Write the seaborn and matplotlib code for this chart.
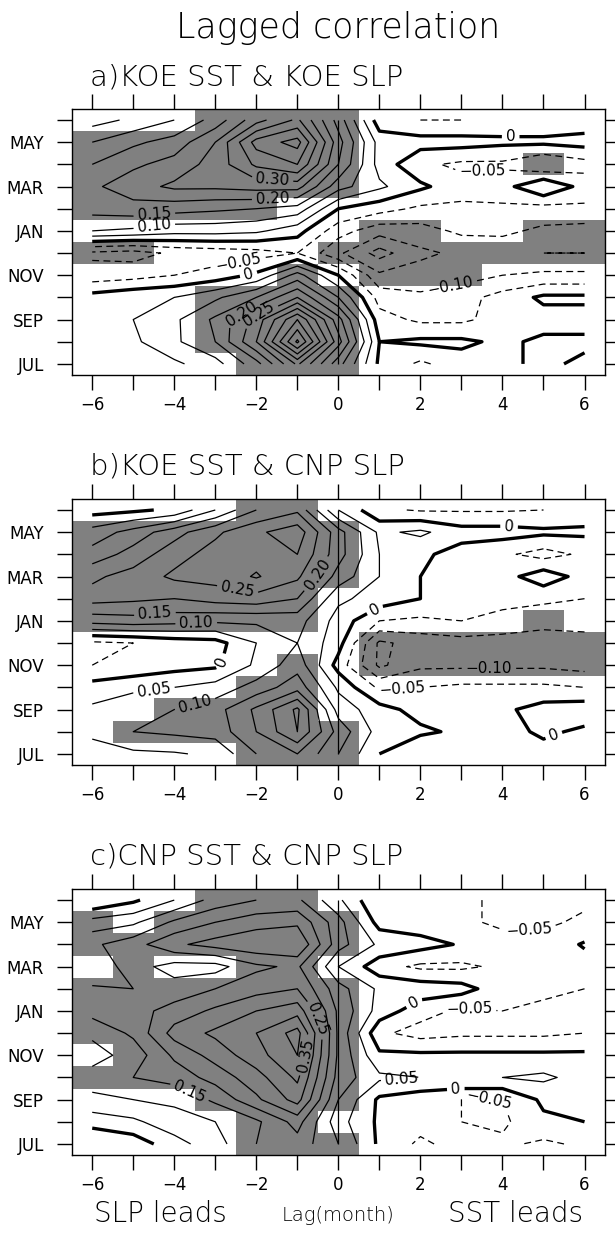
import numpy as np
import pandas as pd
import matplotlib
matplotlib.use("Agg")
import matplotlib.pyplot as plt
from matplotlib.colors import ListedColormap
import seaborn as sns

# ── Data ──────────────────────────────────────────────────
LAGS   = list(range(-6, 7))
MONTHS = ["JUL", "AUG", "SEP", "OCT", "NOV", "DEC",
          "JAN", "FEB", "MAR", "APR", "MAY", "JUN"]
MONTH_LABELS = ["JUL", "", "SEP", "", "NOV", "", "JAN", "", "MAR", "", "MAY", ""]
LAG_LABELS   = ["−6", "", "−4", "", "−2", "", "0", "", "2", "", "4", "", "6"]

TITLES = ["a)KOE SST & KOE SLP", "b)KOE SST & CNP SLP", "c)CNP SST & CNP SLP"]

# correlation, rows JUL..JUN, columns lag -6..6
corr_a = [
    [ 0.02,  0.03,  0.04,  0.08,  0.18,  0.36,  0.17, -0.01, -0.06, -0.02, -0.01,  0.01, -0.01],
    [ 0.02,  0.04,  0.09,  0.15,  0.30,  0.56,  0.27,  0.00,  0.01,  0.01, -0.01,  0.01,  0.01],
    [ 0.02,  0.05,  0.09,  0.16,  0.27,  0.45,  0.22, -0.03, -0.06, -0.06, -0.03, -0.02, -0.02],
    [ 0.02,  0.04,  0.05,  0.09,  0.15,  0.25,  0.10, -0.07, -0.09, -0.07, -0.03,  0.01,  0.01],
    [-0.08, -0.07, -0.05, -0.03,  0.01,  0.12,  0.00, -0.14, -0.13, -0.12, -0.10, -0.09, -0.09],
    [-0.11, -0.12, -0.09, -0.08, -0.07, -0.05, -0.14, -0.22, -0.16, -0.14, -0.13, -0.15, -0.15],
    [ 0.10,  0.09,  0.07,  0.07,  0.06,  0.02, -0.08, -0.13, -0.12, -0.09, -0.09, -0.11, -0.12],
    [ 0.17,  0.18,  0.17,  0.16,  0.15,  0.13,  0.00, -0.03, -0.06, -0.06, -0.06, -0.07, -0.06],
    [ 0.19,  0.23,  0.26,  0.26,  0.27,  0.27,  0.12,  0.06,  0.01, -0.03, -0.02,  0.05, -0.02],
    [ 0.15,  0.19,  0.22,  0.27,  0.36,  0.40,  0.20,  0.03, -0.04, -0.06, -0.06, -0.10, -0.07],
    [ 0.10,  0.14,  0.17,  0.25,  0.42,  0.47,  0.22,  0.03,  0.02,  0.02,  0.01,  0.01,  0.02],
    [ 0.03,  0.06,  0.10,  0.17,  0.28,  0.36,  0.18, -0.03, -0.05, -0.05, -0.03, -0.03, -0.03],
]
corr_b = [
    [ 0.03,  0.04,  0.045, 0.06,  0.15,  0.20,  0.10,  0.00, -0.05, -0.01, -0.01, -0.02, -0.01],
    [ 0.06,  0.10,  0.11,  0.12,  0.20,  0.30,  0.13,  0.03,  0.01, -0.01, -0.02,  0.01, -0.01],
    [ 0.06,  0.08,  0.10,  0.13,  0.21,  0.31,  0.08,  0.02, -0.02, -0.02, -0.01,  0.02,  0.03],
    [ 0.02,  0.04,  0.05,  0.07,  0.12,  0.18,  0.04, -0.06, -0.05, -0.04, -0.04, -0.04, -0.05],
    [-0.05, -0.04, -0.02, -0.01,  0.06,  0.13, -0.02, -0.16, -0.11, -0.11, -0.11, -0.11, -0.12],
    [-0.06, -0.05, -0.03, -0.02,  0.05,  0.10,  0.02, -0.16, -0.13, -0.12, -0.12, -0.13, -0.13],
    [ 0.12,  0.13,  0.12,  0.11,  0.11,  0.12,  0.03, -0.05, -0.06, -0.05, -0.07, -0.08, -0.07],
    [ 0.22,  0.21,  0.20,  0.22,  0.23,  0.20,  0.06,  0.03,  0.00, -0.03, -0.03, -0.04, -0.05],
    [ 0.19,  0.22,  0.26,  0.27,  0.305, 0.26,  0.13,  0.05,  0.00, -0.02, -0.02,  0.03, -0.02],
    [ 0.12,  0.17,  0.23,  0.27,  0.28,  0.30,  0.17,  0.05,  0.01, -0.02, -0.04, -0.07, -0.04],
    [ 0.07,  0.12,  0.18,  0.24,  0.29,  0.33,  0.17,  0.04,  0.06,  0.02,  0.02,  0.01,  0.01],
    [-0.02, -0.01,  0.01,  0.10,  0.20,  0.24,  0.05, -0.04, -0.055, -0.055, -0.055, -0.05, -0.03],
]
corr_c = [
    [-0.05, -0.03,  0.03,  0.08,  0.15,  0.18,  0.10, -0.01, -0.06, -0.03, -0.04, -0.06, -0.04],
    [ 0.02,  0.04,  0.08,  0.10,  0.14,  0.22,  0.07, -0.01, -0.03, -0.05, -0.06, -0.01,  0.00],
    [ 0.09,  0.10,  0.11,  0.16,  0.24,  0.32,  0.10, -0.01, -0.03, -0.05, -0.05,  0.01,  0.02],
    [ 0.12,  0.15,  0.17,  0.22,  0.28,  0.36,  0.13,  0.06,  0.05,  0.05,  0.05,  0.06,  0.03],
    [ 0.08,  0.12,  0.21,  0.27,  0.33,  0.40,  0.14,  0.01,  0.01,  0.01,  0.01,  0.01,  0.01],
    [ 0.11,  0.16,  0.27,  0.31,  0.35,  0.42,  0.14, -0.04, -0.07, -0.06, -0.06, -0.06, -0.05],
    [ 0.17,  0.18,  0.22,  0.26,  0.30,  0.33,  0.14,  0.03, -0.03, -0.06, -0.05, -0.06, -0.06],
    [ 0.155, 0.15,  0.17,  0.20,  0.23,  0.25,  0.12,  0.04,  0.03,  0.02, -0.03, -0.04, -0.05],
    [ 0.12,  0.17,  0.13,  0.13,  0.19,  0.21,  0.05, -0.03, -0.06, -0.06, -0.04, -0.03, -0.02],
    [ 0.14,  0.18,  0.24,  0.27,  0.29,  0.30,  0.12,  0.04,  0.02, -0.005, -0.03, -0.03, 0.005],
    [ 0.07,  0.09,  0.16,  0.20,  0.23,  0.24,  0.12, -0.02, -0.03, -0.04, -0.06, -0.06, -0.04],
    [-0.05, -0.01,  0.05,  0.12,  0.15,  0.16,  0.06, -0.05, -0.04, -0.04, -0.06, -0.08, -0.06],
]

# significant cells (shaded), rows JUL..JUN, columns lag -6..6
sig_a = ["0000111000000", "0001111000000", "0001111000000", "0001111000000",
         "0000010111000", "1100001111111", "0000000110011", "1111100000000",
         "1111111000000", "1111111000010", "1111111000000", "0001111000000"]
sig_b = ["0000111000000", "0111111000000", "0011110000000", "0000110000000",
         "0000010111111", "0000000111111", "1111110000010", "1111110000000",
         "1111111000000", "1111111000000", "1111111000000", "0000110000000"]
sig_c = ["0000111000000", "0000110000000", "0001111000000", "1111111000000",
         "0111111000000", "1111111000000", "1111111000000", "1111111000000",
         "0100110000000", "1111111000000", "1011111000000", "0001110000000"]

# contour labels: (level, lag, month index from JUL)
labels_a = [(0.30, -1.6, 8.6), (0.20, -1.6, 7.5), (0.15, -4.5, 7.1), (0.10, -4.5, 6.45),
            (-0.05, -2.4, 4.35), (0.0, -2.2, 4.1), (0.20, -2.35, 2.2), (0.25, -1.95, 2.3),
            (0.0, 4.2, 10.25), (-0.05, 3.5, 8.9), (-0.10, 2.7, 3.8)]
labels_b = [(0.20, -0.57, 8.15), (0.25, -2.48, 7.17), (0.15, -4.47, 6.28), (0.10, -3.46, 5.6),
            (0.0, -2.93, 4.19), (0.05, -4.47, 2.54), (0.10, -3.46, 2.02), (0.0, 4.16, 10.24),
            (0.0, 0.91, 6.43), (-0.10, 3.67, 3.8), (-0.05, 1.56, 3.06), (0.0, 5.18, 1.2)]
labels_c = [(0.25, -0.53, 5.6), (0.35, -0.69, 3.96), (0.15, -3.58, 2.54), (-0.05, 4.65, 9.57),
            (0.0, 1.89, 6.2), (-0.05, 3.19, 6.13), (0.05, 1.56, 2.6), (0.0, 2.86, 2.54),
            (-0.05, 3.67, 2.02)]

LEVELS = np.round(np.arange(-0.30, 0.61, 0.05), 2)
SHADE_CMAP = ListedColormap(["white", "#808080"])

sns.set_style("ticks")
plt.rcParams["font.family"] = ["DejaVu Sans"]
plt.rcParams["text.color"] = "black"
plt.rcParams["xtick.labelcolor"] = "black"
plt.rcParams["ytick.labelcolor"] = "black"
plt.rcParams["lines.dashed_pattern"] = [5.5, 3.5]


def fmt(v):
    if abs(v) < 1e-6:
        return "0"
    return f"{v:.2f}".replace("-", "−")


def draw_panel(ax, corr, sig, labels):
    z   = np.array(corr)[::-1]               # JUN on top
    sig = np.array([[int(c) for c in row] for row in sig])[::-1]
    sig_df = pd.DataFrame(sig, index=MONTHS[::-1], columns=LAGS)
    sns.heatmap(sig_df, ax=ax, cmap=SHADE_CMAP, vmin=0, vmax=1, cbar=False,
                xticklabels=False, yticklabels=False, linewidths=0)

    x = np.arange(len(LAGS)) + 0.5
    y = np.arange(len(MONTHS)) + 0.5

    # one contour set per level (keeps manual labelling simple)
    sets = {}
    for lv in LEVELS:
        if not (z.min() < lv < z.max()):
            continue
        if abs(lv) < 1e-9:
            lw, ls = 2.4, "solid"
        elif lv < 0:
            lw, ls = 0.9, "dashed"
        else:
            lw, ls = 0.9, "solid"
        sets[round(float(lv), 2)] = ax.contour(x, y, z, levels=[lv], colors="k",
                                               linewidths=lw, linestyles=ls)
    ax.vlines(LAGS.index(0) + 0.5, y[0], y[-1], color="k", lw=0.9)

    groups = {}
    for lv, lag, row in labels:
        groups.setdefault(round(lv, 2), []).append((lag + 6.5, 11.5 - row))
    for lv, pts in groups.items():
        cs = sets.get(lv)
        if cs is None:
            continue
        cs.clabel(manual=pts, fmt=fmt, fontsize=11, inline=True, inline_spacing=4)

    ax.set_xticks(x)
    ax.set_xticklabels(LAG_LABELS, rotation=0)
    ax.set_yticks(y)
    ax.set_yticklabels(MONTH_LABELS[::-1], rotation=0)
    ax.set_xlabel(""); ax.set_ylabel("")
    ax.tick_params(axis="both", direction="out", length=11, width=1,
                   top=True, right=True, labeltop=False, labelright=False,
                   labelsize=12, color="k")
    ax.tick_params(axis="x", pad=4)
    ax.tick_params(axis="y", pad=9)
    for s in ax.spines.values():
        s.set_visible(True)
        s.set_color("k")
        s.set_linewidth(1.0)


fig = plt.figure(figsize=(6.15, 12.38), dpi=100)
left, width, height = 0.1166, 0.8672, 0.2149
bottoms   = [0.6971, 0.3821, 0.0670]
title_ys  = [0.937, 0.623, 0.308]
panels = [(corr_a, sig_a, labels_a), (corr_b, sig_b, labels_b), (corr_c, sig_c, labels_c)]

for (corr, sig, labels), title, b, ty in zip(panels, TITLES, bottoms, title_ys):
    ax = fig.add_axes([left, b, width, height])
    draw_panel(ax, corr, sig, labels)
    fig.text(0.146, ty, title, ha="left", va="center", fontsize=21, fontweight="light")

fig.text(0.55, 0.977, "Lagged correlation", ha="center", va="center",
         fontsize=25, fontweight="light")
fig.text(0.153, 0.019, "SLP leads", ha="left", va="center", fontsize=20, fontweight="light")
fig.text(0.55, 0.018, "Lag(month)", ha="center", va="center", fontsize=14, fontweight="light")
fig.text(0.838, 0.019, "SST leads", ha="center", va="center", fontsize=20, fontweight="light")

fig.savefig("out.png", dpi=100)
